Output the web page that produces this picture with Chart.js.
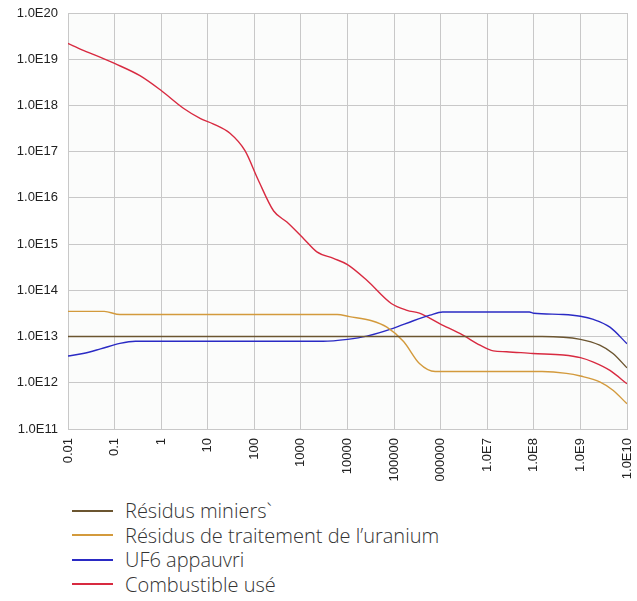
<!DOCTYPE html>
<html>
<head>
<meta charset="utf-8">
<script src="https://cdn.jsdelivr.net/npm/chart.js@4"></script>
<style>
  html, body { margin: 0; padding: 0; background: #fff; }
  #wrap { position: relative; width: 637px; height: 601px; }
  #box { position: absolute; left: 0; top: 0; width: 637px; height: 490px; }
  #legend { position: absolute; left: 72px; top: 499px; font-family: "Open Sans", "Noto Sans", sans-serif; font-weight: 300; font-size: 20px; color: #333; }
  .row { height: 24.5px; line-height: 24.5px; white-space: nowrap; }
  .swatch { display: inline-block; width: 41px; height: 2px; vertical-align: middle; margin-right: 12px; position: relative; top: -2px; }
</style>
</head>
<body>
<div id="wrap">
  <div id="box"><canvas id="myChart"></canvas></div>
  <div id="legend"></div>
</div>
<script>
var xTicks = [0.01, 0.1, 1, 10, 100, 1000, 10000, 100000, 1e6, 1e7, 1e8, 1e9, 1e10];
var xLabels = ['0.01', '0.1', '1', '10', '100', '1000', '10000', '100000', '000000', '1.0E7', '1.0E8', '1.0E9', '1.0E10'];
var yTicks = [1e11, 1e12, 1e13, 1e14, 1e15, 1e16, 1e17, 1e18, 1e19, 1e20];
var yLabels = ['1.0E11', '1.0E12', '1.0E13', '1.0E14', '1.0E15', '1.0E16', '1.0E17', '1.0E18', '1.0E19', '1.0E20'];

var names = ['Résidus miniers`', 'Résidus de traitement de l\u2019uranium', 'UF6 appauvri', 'Combustible usé'];
var colors = ['#6b5530', '#d39a3c', '#2a2ac4', '#d82a40'];

// Résidus miniers
var tMiniers = [0.01, 1.5e8, 1e9, 2.6e9, 5e9, 1e10];
var vMiniers = [1e13, 1e13, 8.7e12, 6.5e12, 4.3e12, 2.1e12];

// Résidus de traitement
var tTraitement = [0.01, 0.06, 0.13, 6000, 11000, 33000, 70000, 1.6e5, 3.5e5, 7.6e5, 1.5e8, 5e8, 1e9, 2.6e9, 5e9, 1e10];
var vTraitement = [3.5e13, 3.5e13, 3e13, 3e13, 2.7e13, 2.2e13, 1.6e13, 7.8e12, 2.6e12, 1.75e12, 1.75e12, 1.6e12, 1.4e12, 1.05e12, 6.9e11, 3.5e11];

// UF6 appauvri
var tUF6 = [0.01, 0.021, 0.05, 0.13, 0.28, 3000, 10000, 26000, 95000, 2.6e5, 5.9e5, 1.1e6, 8e7, 1e8, 4.3e8, 1e9, 1.9e9, 4.3e9, 1e10];
var vUF6 = [3.8e12, 4.3e12, 5.4e12, 7.1e12, 7.9e12, 7.9e12, 8.7e12, 1.02e13, 1.5e13, 2.2e13, 2.9e13, 3.4e13, 3.4e13, 3.2e13, 3e13, 2.75e13, 2.35e13, 1.6e13, 7e12];

// Combustible usé
var tCombustible = [0.01, 0.02, 0.05, 0.1, 0.35, 1, 3, 7, 13, 30, 63, 120, 260, 500, 1200, 2200, 5000, 10000, 26000, 87000, 1.9e5, 3.5e5, 9.5e5, 3e6, 7e6, 1.35e7, 2.6e7, 9.5e7, 4.3e8, 1e9, 1.9e9, 4.3e9, 1e10];
var vCombustible = [2.2e19, 1.6e19, 1.1e19, 8.1e18, 4.4e18, 2.1e18, 8.7e17, 5.2e17, 4e17, 2.5e17, 1.05e17, 2.5e16, 5.2e15, 3e15, 1.25e15, 6.8e14, 4.9e14, 3.6e14, 1.65e14, 5.2e13, 3.7e13, 3.2e13, 1.9e13, 1.07e13, 6.5e12, 4.9e12, 4.7e12, 4.3e12, 4e12, 3.5e12, 2.8e12, 1.85e12, 9.5e11];

function pts(t, v) {
    var out = [];
    for (var i = 0; i < t.length; i++) out.push({x: t[i], y: v[i]});
    return out;
}

var series = [pts(tMiniers, vMiniers), pts(tTraitement, vTraitement), pts(tUF6, vUF6), pts(tCombustible, vCombustible)];
var datasets = [];
for (var i = 0; i < series.length; i++) {
    datasets.push({
        label: names[i],
        data: series[i],
        borderColor: colors[i],
        backgroundColor: colors[i],
        borderWidth: 1.4,
        pointRadius: 0,
        fill: false,
        cubicInterpolationMode: 'monotone'
    });
}

var plotBg = {
    id: 'plotBg',
    beforeDraw: function (chart) {
        var a = chart.chartArea, c = chart.ctx;
        c.save();
        c.fillStyle = '#fbfcfb';
        c.fillRect(a.left, a.top, a.right - a.left, a.bottom - a.top);
        c.restore();
    }
};

var tickFont = {family: 'Liberation Sans', size: 13};

new Chart(document.getElementById('myChart'), {
    type: 'line',
    data: {datasets: datasets},
    plugins: [plotBg],
    options: {
        responsive: true,
        maintainAspectRatio: false,
        animation: false,
        layout: {padding: {top: 13, right: 10, left: 0, bottom: 0}},
        plugins: {legend: {display: false}, tooltip: {enabled: false}},
        scales: {
            x: {
                type: 'logarithmic',
                min: 0.01,
                max: 1e10,
                afterBuildTicks: function (s) { s.ticks = xTicks.map(function (v) { return {value: v}; }); },
                afterFit: function (s) { s.height = 61; s.paddingLeft = 0; s.paddingRight = 0; },
                grid: {color: '#c8c8c8', drawTicks: false},
                border: {color: '#c8c8c8'},
                ticks: {
                    minRotation: 90, maxRotation: 90, autoSkip: false, padding: 9,
                    color: '#222', font: tickFont,
                    callback: function (v, i) { return xLabels[i]; }
                }
            },
            y: {
                type: 'logarithmic',
                min: 1e11,
                max: 1e20,
                afterBuildTicks: function (s) { s.ticks = yTicks.map(function (v) { return {value: v}; }); },
                afterFit: function (s) { s.width = 68; s.paddingTop = 0; s.paddingBottom = 0; },
                grid: {color: '#c8c8c8', drawTicks: false},
                border: {color: '#c8c8c8'},
                ticks: {
                    padding: 10, autoSkip: false,
                    color: '#222', font: tickFont,
                    callback: function (v, i) { return yLabels[i]; }
                }
            }
        }
    }
});

var lg = document.getElementById('legend');
for (var k = 0; k < names.length; k++) {
    var row = document.createElement('div');
    row.className = 'row';
    var sw = document.createElement('span');
    sw.className = 'swatch';
    sw.style.background = colors[k];
    row.appendChild(sw);
    row.appendChild(document.createTextNode(names[k]));
    lg.appendChild(row);
}
</script>
</body>
</html>
